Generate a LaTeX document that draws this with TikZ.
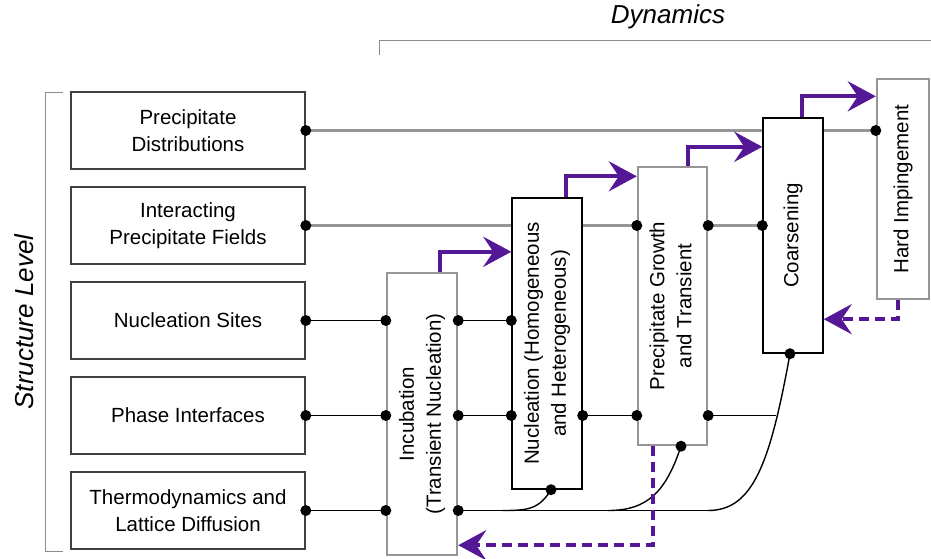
\documentclass[tikz,border=0pt]{standalone}
\usepackage{fontspec}
\setmainfont{Liberation Sans}
\usepackage{graphicx}
\definecolor{flowpurple}{RGB}{84,24,150}
\definecolor{wiregray}{RGB}{150,150,150}
\usetikzlibrary{arrows.meta}
\newcommand{\uptext}[1]{\rotatebox{90}{\begin{tabular}{@{}c@{}}#1\end{tabular}}}

\begin{document}
\begin{tikzpicture}[x=1pt, y=-1pt,
  font=\fontsize{20.5}{27}\selectfont,
  levelbox/.style={draw=black!75, line width=1.6pt, fill=white,
    minimum width=234pt, minimum height=77pt, inner sep=0pt, align=center},
  stagebox/.style={draw=black, line width=1.4pt, fill=white, inner sep=0pt},
  stagegray/.style={stagebox, draw=wiregray, line width=2.4pt},
  wire/.style={black, line width=1.4pt},
  graywire/.style={wiregray, line width=2.4pt},
  flow/.style={flowpurple, line width=4pt,
    -{Stealth[length=28pt, width=30pt, inset=10pt]}},
  feedback/.style={flow, dash pattern=on 10pt off 6pt},
  bracket/.style={black!45, line width=1pt}]

\useasboundingbox (0,0) rectangle (931,558);

% --- Titles and brackets ---
\node[font=\fontsize{26}{30}\selectfont\itshape] (dyn) at (668,17) {Dynamics};
\draw[bracket] (379,55) |- (931,40);
\node[font=\fontsize{26}{30}\selectfont\itshape, rotate=90] (sl) at (24,322) {Structure Level};
\draw[bracket] (63,92) -| (45,551) -- (63,551);

% --- Structure levels ---
\node[levelbox] (pd)  at (188,130.5) {Precipitate\\Distributions};
\node[levelbox] (ipf) at (188,225.5) {Interacting\\Precipitate Fields};
\node[levelbox] (ns)  at (188,320.5) {Nucleation Sites};
\node[levelbox] (pi)  at (188,415.5) {Phase Interfaces};
\node[levelbox] (td)  at (188,510.5) {Thermodynamics and\\Lattice Diffusion};

% --- Dynamic stages ---
\node[stagegray, minimum width=70pt, minimum height=282pt] (inc) at (422,414)
  {\uptext{Incubation\\(Transient Nucleation)}};
\node[stagebox, minimum width=70pt, minimum height=291pt] (nuc) at (547,343.5)
  {\uptext{Nucleation (Homogeneous\\and Heterogeneous)}};
\node[stagegray, minimum width=69pt, minimum height=278pt] (pg) at (672.5,306)
  {\uptext{Precipitate Growth\\and Transient}};
\node[stagebox, minimum width=60pt, minimum height=235pt] (coa) at (793,235.5)
  {\uptext{Coarsening}};
\node[stagegray, minimum width=52pt, minimum height=220pt] (hi) at (903,189)
  {\uptext{Hard Impingement}};

% junctions on the bottom wires
\coordinate (m4) at (776,415.5);
\coordinate (j1) at (502,510.5);
\coordinate (j2) at (608,510.5);
\coordinate (j3) at (708,510.5);

% --- Wires between levels and stages ---
\draw[graywire] (pd.east) -- (pd.east -| coa.west)
  (pd.east -| coa.east) -- (pd.east -| hi.west);
\draw[graywire] (ipf.east) -- (ipf.east -| nuc.west)
  (ipf.east -| nuc.east) -- (ipf.east -| pg.west)
  (ipf.east -| pg.east) -- (ipf.east -| coa.west);
\draw[wire] (ns.east) -- (ns.east -| inc.west)
  (ns.east -| inc.east) -- (ns.east -| nuc.west);
\draw[wire] (pi.east) -- (pi.east -| inc.west)
  (pi.east -| inc.east) -- (pi.east -| nuc.west)
  (pi.east -| nuc.east) -- (pi.east -| pg.west)
  (pi.east -| pg.east) -- (m4);
\draw[wire] (td.east) -- (td.east -| inc.west)
  (td.east -| inc.east) -- (j3);
\draw[wire] ([xshift=4pt]nuc.south) .. controls +(-12,20) and +(25,0) .. (j1);
\draw[wire] ([xshift=8.5pt]pg.south) .. controls +(-15,45) and +(40,0) .. (j2);
\draw[wire] ([xshift=-3pt]coa.south) .. controls +(-20,110) and +(45,0) .. (j3);

% dots
\foreach \p in {pd.east, hi.west |- pd.east,
    ipf.east, pg.west |- ipf.east, pg.east |- ipf.east, coa.west |- ipf.east,
    ns.east, inc.west |- ns.east, inc.east |- ns.east, nuc.west |- ns.east,
    pi.east, inc.west |- pi.east, inc.east |- pi.east, nuc.west |- pi.east,
    nuc.east |- pi.east, pg.west |- pi.east, pg.east |- pi.east,
    td.east, inc.west |- td.east, inc.east |- td.east}
  \fill (\p) circle (5.5pt);
\fill ([xshift=4pt]nuc.south) circle (5.5pt);
\fill ([xshift=8.5pt]pg.south) circle (5.5pt);
\fill ([xshift=-3pt]coa.south) circle (5.5pt);

% --- Forward flow ---
\draw[flow] ([xshift=18pt]inc.north) -- ++(0,-20) coordinate (f1) -- (f1 -| nuc.west);
\draw[flow] ([xshift=19pt]nuc.north) -- ++(0,-21) coordinate (f2) -- (f2 -| pg.west);
\draw[flow] ([xshift=15.5pt]pg.north) -- ++(0,-19) coordinate (f3) -- (f3 -| coa.west);
\draw[flow] ([xshift=9pt]coa.north) -- ++(0,-21) coordinate (f4) -- (f4 -| hi.west);

% --- Feedback ---
\draw[feedback] ([xshift=-5pt]hi.south) -- ++(0,19) coordinate (b1) -- (b1 -| coa.east);
\draw[feedback] ([xshift=-19.5pt]pg.south) -- ++(0,99) coordinate (b2) -- (b2 -| inc.east);

\end{tikzpicture}
\end{document}
